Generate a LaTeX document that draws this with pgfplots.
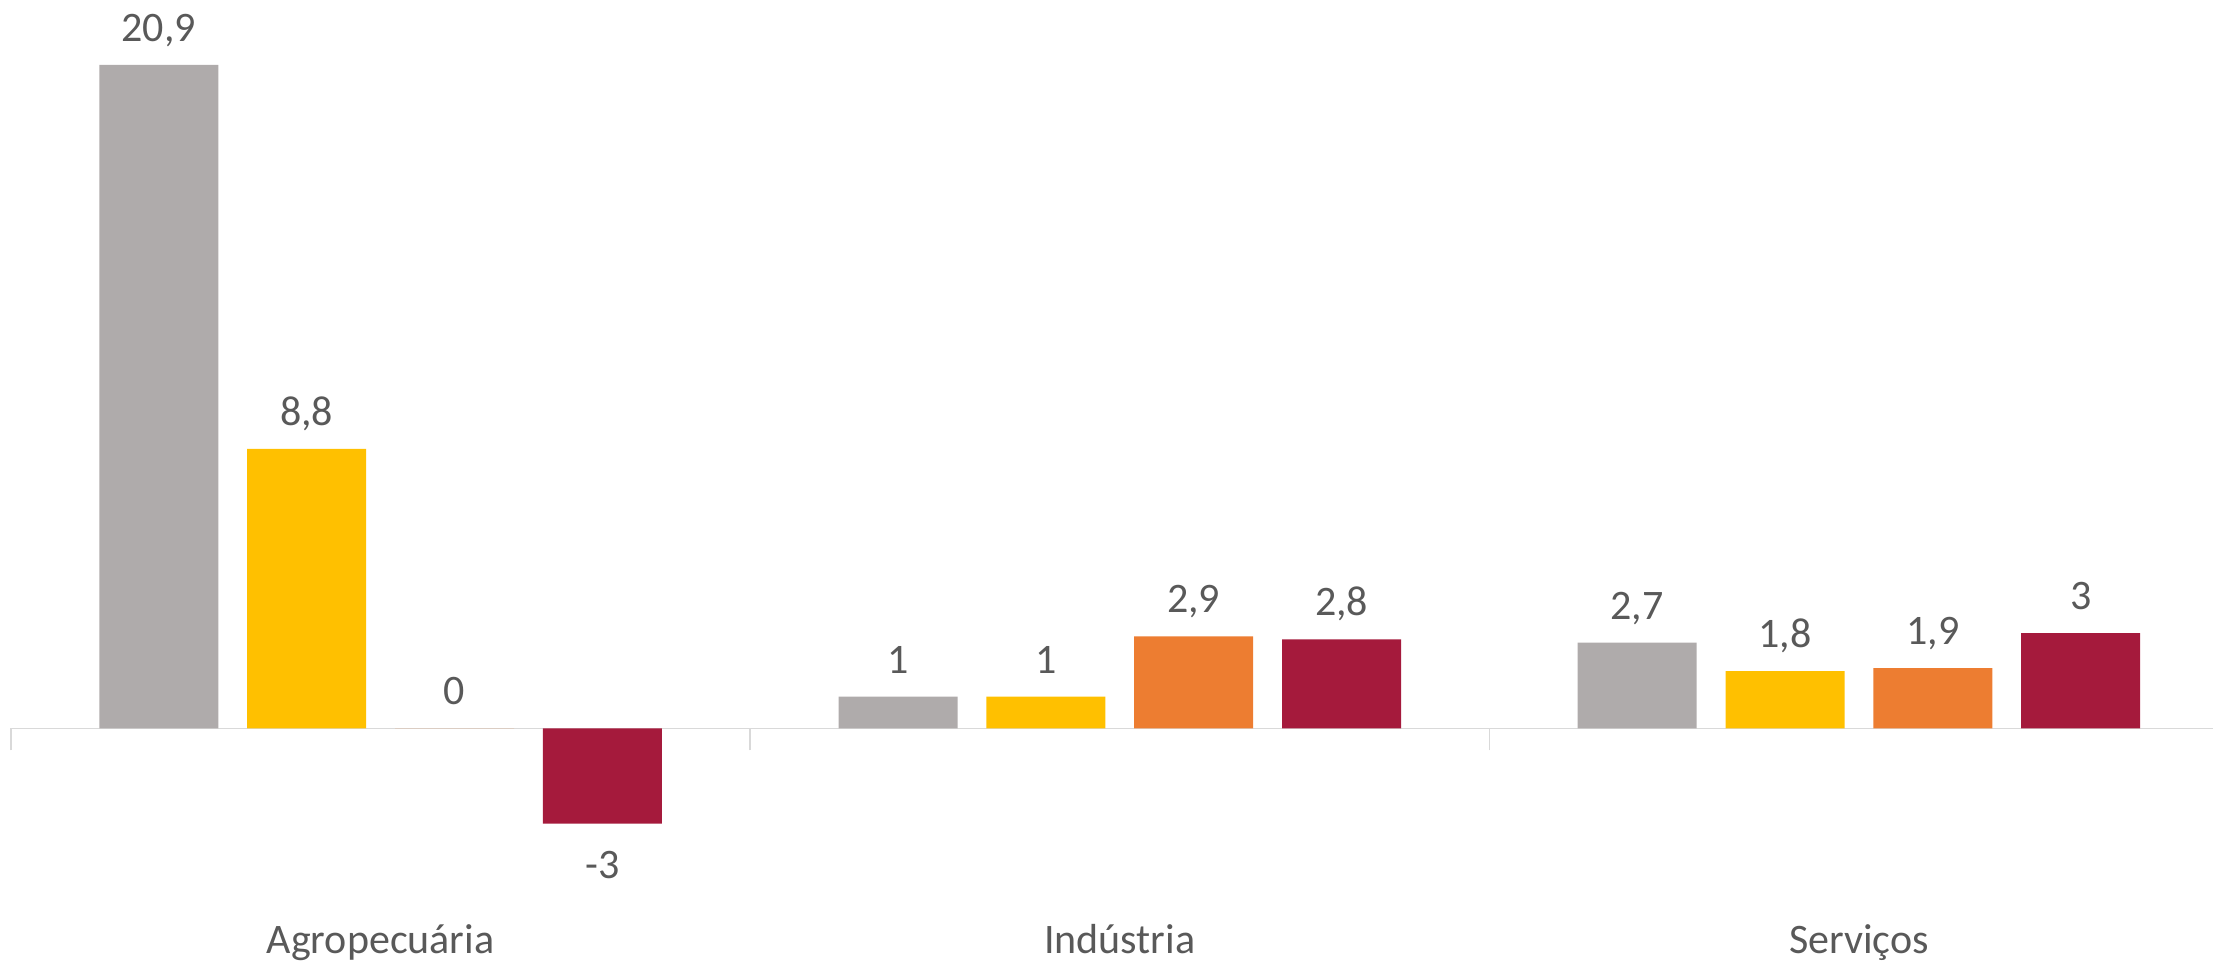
\documentclass[border=0pt]{standalone}
\usepackage{pgfplots}
\pgfplotsset{compat=1.18}
\usepackage{fontspec}
\setmainfont{Carlito}
\definecolor{cgray}{HTML}{AFABAB}
\definecolor{cyellow}{HTML}{FFC000}
\definecolor{corange}{HTML}{ED7D31}
\definecolor{cred}{HTML}{A51A3C}
\definecolor{txtgray}{HTML}{595959}
\definecolor{axgray}{HTML}{D9D9D9}
\begin{document}
\begin{tikzpicture}
\begin{axis}[
  scale only axis,
  width=1101pt, height=481.5pt,
  xmin=-0.5, xmax=2.479,
  ymin=-7.39, ymax=22.94,
  axis x line*=middle,
  axis y line=none,
  x axis line style={draw=axgray, line width=0.75pt},
  ytick=\empty,
  xtick={-0.5,0.5,1.5,2.5},
  xticklabels={},
  major tick length=11pt,
  tick align=center,
  xtick style={draw=axgray, line width=0.75pt},
  extra x ticks={0,1,2},
  extra x tick labels={Agropecuária,Indústria,Serviços},
  extra x tick style={major tick length=0pt,
    xticklabel style={anchor=base, yshift=-112.5pt, font=\fontsize{21}{25}\selectfont, text=txtgray}},
  ybar,
  bar width=0.161,
  clip=false,
  nodes near coords={\pgfmathprintnumber[use comma,assume math mode=true]{\pgfplotspointmeta}},
  every node near coord/.append style={font=\fontsize{21}{25}\selectfont, text=txtgray,
    inner xsep=0pt, inner ysep=11.6pt, text height=15.4pt, text depth=0pt},
]
\addplot[fill=cgray, draw=none, bar shift=-0.3] coordinates {(0,20.9) (1,1) (2,2.7)};
\addplot[fill=cyellow, draw=none, bar shift=-0.1] coordinates {(0,8.8) (1,1) (2,1.8)};
\addplot[fill=corange, draw=none, bar shift=0.1] coordinates {(0,0) (1,2.9) (2,1.9)};
\addplot[fill=cred, draw=none, bar shift=0.3] coordinates {(0,-3) (1,2.8) (2,3)};
\end{axis}
\pgfresetboundingbox
\path[use as bounding box] ([xshift=-5.5pt]current axis.south west) rectangle (current axis.north east);
\end{tikzpicture}
\end{document}
